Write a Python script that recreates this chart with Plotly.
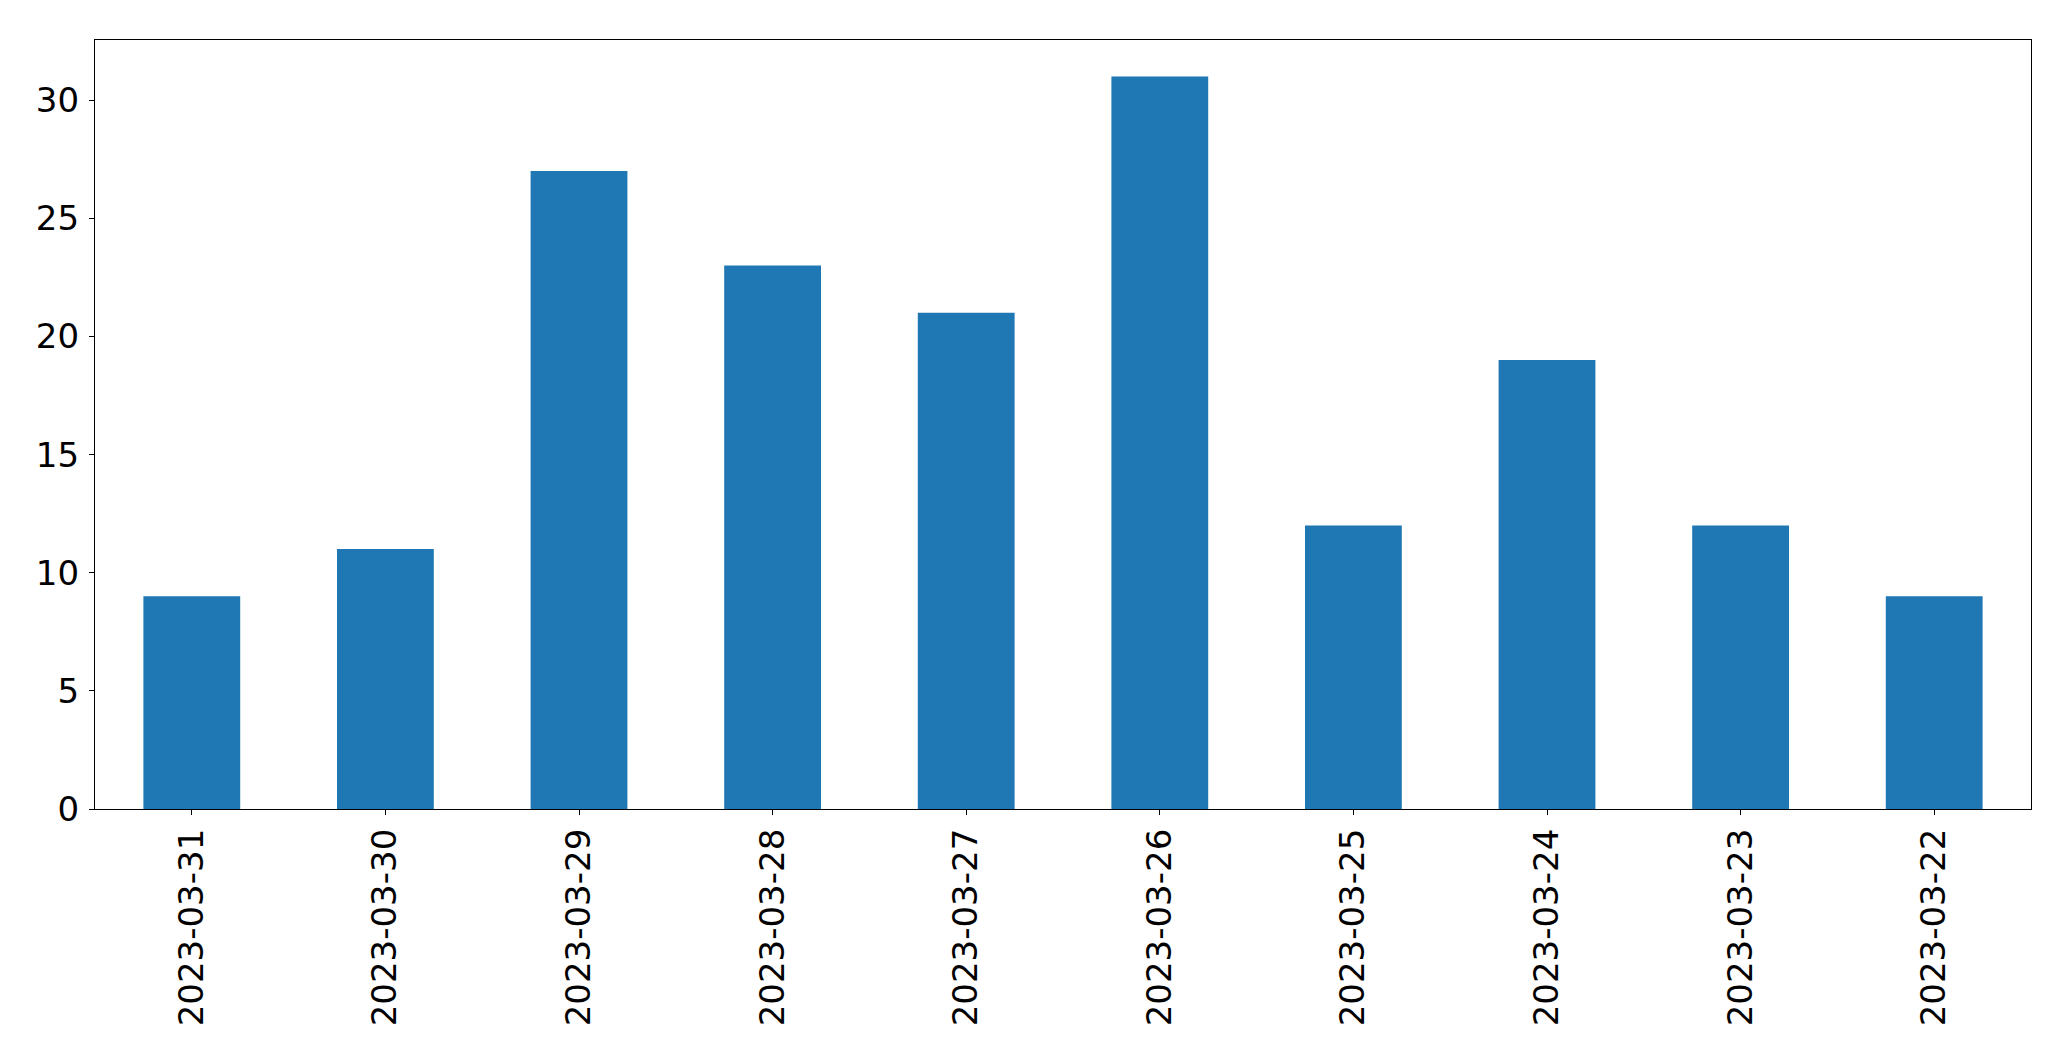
import plotly.graph_objects as go

categories = ["2023-03-31", "2023-03-30", "2023-03-29", "2023-03-28", "2023-03-27",
              "2023-03-26", "2023-03-25", "2023-03-24", "2023-03-23", "2023-03-22"]
values = [9, 11, 27, 23, 21, 31, 12, 19, 12, 9]
ytick_vals = [0, 5, 10, 15, 20, 25, 30]

fig = go.Figure(go.Bar(x=categories, y=values, width=0.5,
                       marker=dict(color="#1f77b4", line=dict(width=0))))

axis_common = dict(showline=True, linecolor="black", linewidth=1.3, mirror=True,
                   ticks="outside", ticklen=5, tickwidth=1.3, tickcolor="black",
                   showgrid=False, zeroline=False,
                   tickfont=dict(family="DejaVu Sans", size=34, color="black"))

fig.update_layout(
    width=2071, height=1061,
    margin=dict(l=94.5, r=39.5, t=39.5, b=252),
    paper_bgcolor="white", plot_bgcolor="white",
    showlegend=False,
    xaxis=dict(type="category", range=[-0.5, 9.5], tickangle=-90, **axis_common),
    yaxis=dict(range=[0, 32.55], tickvals=ytick_vals, ticklabelstandoff=3, **axis_common),
    bargap=0.5,
)

fig.write_html("out.html")
